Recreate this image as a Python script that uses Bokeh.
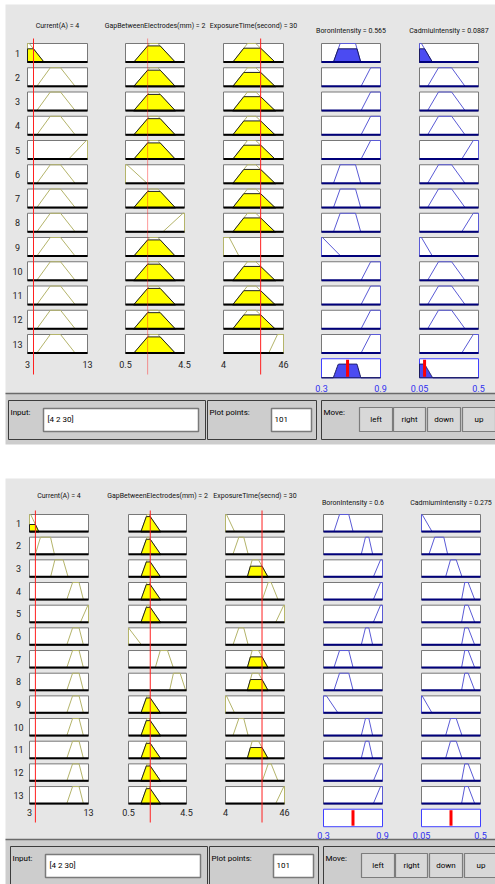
import numpy as np
from bokeh.plotting import figure
from bokeh.models import Range1d
from bokeh.embed import file_html
from bokeh.resources import INLINE
from bokeh.core.properties import value

# ----------------------------- data -----------------------------
rule_labels = ["1", "2", "3", "4", "5", "6", "7", "8", "9", "10", "11", "12", "13"]
input_values = [4, 2, 30]
plot_points = 101
input_ranges = [[3, 13], [0.5, 4.5], [4, 46]]
output_ranges = [[0.3, 0.9], [0.05, 0.5]]
input_tick_labels = [["3", "13"], ["0.5", "4.5"], ["4", "46"]]
output_tick_labels = [["0.3", "0.9"], ["0.05", "0.5"]]
button_labels = ["left", "right", "down", "up"]

# upper rule viewer
top_input_names = ["Current(A)", "GapBetweenElectrodes(mm)", "ExposureTime(second)"]
top_output_names = ["BoronIntensity", "CadmiuIntensity"]
top_output_values = [0.565, 0.0887]
top_current_mfs = [[3, 3, 3.3, 5.8], [4.5, 6.8, 8.5, 11.0], [9.8, 12.8, 13, 13]]
top_gap_mfs = [[0.5, 0.5, 0.6, 2.0], [1.04, 2.14, 2.7, 3.9], [3.0, 4.4, 4.5, 4.5]]
top_exposure_mfs = [[4, 4, 8, 15], [10.3, 20.8, 26.6, 40.4], [35.5, 41.8, 46, 46]]
top_boron_mfs = [[0.3, 0.3, 0.31, 0.5], [0.42, 0.49, 0.646, 0.70], [0.7, 0.8, 0.9, 0.9]]
top_cadmium_mfs = [[0.05, 0.05, 0.065, 0.15], [0.11, 0.195, 0.295, 0.40], [0.37, 0.46, 0.5, 0.5]]
top_current_rule = [0, 1, 1, 1, 2, 1, 1, 1, 1, 1, 1, 1, 1]
top_gap_rule = [1, 1, 1, 1, 1, 0, 1, 2, 1, 1, 1, 1, 1]
top_exposure_rule = [1, 1, 1, 1, 1, 1, 1, 1, 0, 1, 1, 1, 2]
top_boron_rule = [1, 2, 2, 2, 2, 1, 1, 1, 0, 2, 2, 2, 2]
top_cadmium_rule = [0, 1, 1, 1, 2, 1, 1, 2, 0, 1, 1, 1, 2]

# lower rule viewer
bot_input_names = ["Current(A)", "GapBetweenElectrodes(mm)", "ExposureTime(secnd)"]
bot_output_names = ["BoronIntensity", "CadmiumIntensity"]
bot_output_values = [0.6, 0.275]
bot_current_mfs = [[3, 3, 3.2, 4.6], [3.98, 4.86, 6.56, 7.24], [6.56, 7.3, 8.7, 9.56],
                   [9.3, 10.3, 11.4, 12.15], [11.6, 12.9, 13, 13]]
bot_gap_mfs = [[0.5, 0.5, 0.5, 1.42], [1.35, 1.78, 1.9, 2.73], [2.34, 2.69, 3.19, 3.6],
               [3.33, 3.6, 4.06, 4.45]]
bot_exposure_mfs = [[4, 4, 4.7, 10.6], [9.2, 13.5, 17.0, 20.2], [19.45, 23.0, 27.5, 34.4],
                    [30.1, 34.4, 36.5, 41.5], [39.6, 45.5, 46, 46]]
bot_boron_mfs = [[0.3, 0.3, 0.33, 0.45], [0.405, 0.463, 0.557, 0.602], [0.683, 0.727, 0.761, 0.801],
                 [0.805, 0.88, 0.9, 0.9]]
bot_cadmium_mfs = [[0.05, 0.05, 0.055, 0.132], [0.106, 0.151, 0.22, 0.25], [0.233, 0.271, 0.315, 0.36],
                   [0.355, 0.38, 0.406, 0.457]]
bot_current_rule = [0, 1, 2, 3, 4, 3, 3, 3, 3, 3, 3, 3, 3]
bot_gap_rule = [1, 1, 1, 1, 1, 0, 2, 3, 1, 1, 1, 1, 1]
bot_exposure_rule = [0, 1, 2, 3, 4, 1, 2, 2, 0, 1, 2, 3, 4]
bot_boron_rule = [1, 2, 3, 3, 3, 2, 1, 1, 0, 2, 2, 3, 3]
bot_cadmium_rule = [0, 1, 2, 3, 3, 3, 3, 3, 0, 2, 2, 3, 3]

# ----------------------------- style / layout -----------------------------
FONT = "Roboto"
OLIVE = "#b4b46a"
YELLOW = "#ffff00"
BLUE_LINE = "#5a5ad6"
BLUE_FILL = "#4b4bf2"
NAVY = "#00007a"
RED = "#ff2020"
PANEL_BG = "#e6e6e6"
BAR_BG = "#cdcdcd"

panels = [
    dict(in_names=top_input_names, out_names=top_output_names, out_vals=top_output_values,
         in_mfs=[top_current_mfs, top_gap_mfs, top_exposure_mfs],
         out_mfs=[top_boron_mfs, top_cadmium_mfs],
         in_rules=[top_current_rule, top_gap_rule, top_exposure_rule],
         out_rules=[top_boron_rule, top_cadmium_rule],
         col_left=[27, 125, 223, 321, 419], col_w=[60, 59, 60, 59, 59],
         row_top=43, pitch=24.25, row_h=19, title_y=[25, 25, 25, 30, 30],
         label_x=17, tick_y=364, out_tick_y=388, red_top=38, red_bot=374,
         bg_top=4, bar_y=393, bar_dx=0, red_alpha=[1.0, 0.45, 1.0]),
    dict(in_names=bot_input_names, out_names=bot_output_names, out_vals=bot_output_values,
         in_mfs=[bot_current_mfs, bot_gap_mfs, bot_exposure_mfs],
         out_mfs=[bot_boron_mfs, bot_cadmium_mfs],
         in_rules=[bot_current_rule, bot_gap_rule, bot_exposure_rule],
         out_rules=[bot_boron_rule, bot_cadmium_rule],
         col_left=[29, 128, 225, 323, 421], col_w=[59, 58, 59, 59, 59],
         row_top=514, pitch=22.67, row_h=17.5, title_y=[495, 495, 495, 502, 502],
         label_x=18, tick_y=812, out_tick_y=835, red_top=510, red_bot=822,
         bg_top=478, bar_y=839, bar_dx=2, red_alpha=[1.0, 1.0, 1.0]),
]


def trapmf(x, prm):
    a, b, c, d = prm
    x = np.atleast_1d(np.asarray(x, dtype=float))
    up = (x >= a).astype(float) if b == a else np.clip((x - a) / (b - a), 0.0, 1.0)
    dn = (x <= d).astype(float) if d == c else np.clip((d - x) / (d - c), 0.0, 1.0)
    return np.minimum(up, dn)


W, H = 495, 884
p = figure(width=W, height=H, x_range=Range1d(0, W), y_range=Range1d(H, 0),
           output_backend="svg", toolbar_location=None, min_border=0,
           x_axis_location=None, y_axis_location=None)
p.grid.visible = False
p.outline_line_color = None
p.background_fill_color = "white"
p.border_fill_color = "white"

boxes = dict(left=[], right=[], top=[], bottom=[])
agg_boxes = dict(left=[], right=[], top=[], bottom=[])
in_base = dict(x0=[], y0=[], x1=[], y1=[])
out_base = dict(x0=[], y0=[], x1=[], y1=[])
olive = dict(xs=[], ys=[])
blue = dict(xs=[], ys=[])
yfill = dict(xs=[], ys=[])
bfill = dict(xs=[], ys=[])
red_in = dict(x0=[], y0=[], x1=[], y1=[], a=[])
red_out = dict(x0=[], y0=[], x1=[], y1=[])
titles = dict(x=[], y=[], text=[])
rowlab = dict(x=[], y=[], text=[])
ticks_in = dict(x=[], y=[], text=[])
ticks_out = dict(x=[], y=[], text=[])

# panel backgrounds
for P in panels:
    p.quad(left=5, right=W, top=P["bg_top"], bottom=P["bar_y"], fill_color=PANEL_BG, line_color=None)
    p.quad(left=5, right=W, top=P["bar_y"], bottom=min(P["bar_y"] + 51, H), fill_color=BAR_BG, line_color=None)
    p.segment(x0=5, y0=P["bar_y"], x1=W, y1=P["bar_y"], line_color="#6a6a6a", line_width=1.5)

for P in panels:
    def X(col, v, rng, P=P):
        return P["col_left"][col] + (np.asarray(v, float) - rng[0]) / (rng[1] - rng[0]) * P["col_w"][col]

    def Y(row, mu, P=P):
        return P["row_top"] + row * P["pitch"] + P["row_h"] * (1 - np.asarray(mu, float))

    def cell_box(col, row, store, P=P):
        store["left"].append(P["col_left"][col])
        store["right"].append(P["col_left"][col] + P["col_w"][col])
        store["top"].append(P["row_top"] + row * P["pitch"])
        store["bottom"].append(P["row_top"] + row * P["pitch"] + P["row_h"])

    fires = []
    for r in range(len(rule_labels)):
        rowlab["x"].append(P["label_x"])
        rowlab["y"].append(P["row_top"] + r * P["pitch"] + P["row_h"] / 2)
        rowlab["text"].append(rule_labels[r])
        mus = []
        for i in range(3):
            rng = input_ranges[i]
            prm = P["in_mfs"][i][P["in_rules"][i][r]]
            mu = float(trapmf(input_values[i], prm)[0])
            mus.append(mu)
            cell_box(i, r, boxes)
            a, b, c, d = prm
            olive["xs"].append(list(X(i, [a, b, c, d], rng)))
            olive["ys"].append(list(Y(r, [0, 1, 1, 0])))
            if mu > 0:
                fx = [a, a + mu * (b - a), d - mu * (d - c), d]
                yfill["xs"].append(list(X(i, fx, rng)))
                yfill["ys"].append(list(Y(r, [0, mu, mu, 0])))
            in_base["x0"].append(P["col_left"][i]); in_base["x1"].append(P["col_left"][i] + P["col_w"][i])
            yb = float(Y(r, 0)) - 0.5
            in_base["y0"].append(yb); in_base["y1"].append(yb)
        fire = min(mus)
        fires.append(fire)
        for j in range(2):
            col = 3 + j
            rng = output_ranges[j]
            prm = P["out_mfs"][j][P["out_rules"][j][r]]
            cell_box(col, r, boxes)
            a, b, c, d = prm
            blue["xs"].append(list(X(col, [a, b, c, d], rng)))
            blue["ys"].append(list(Y(r, [0, 1, 1, 0])))
            if fire > 0:
                fx = [a, a + fire * (b - a), d - fire * (d - c), d]
                bfill["xs"].append(list(X(col, fx, rng)))
                bfill["ys"].append(list(Y(r, [0, fire, fire, 0])))
            out_base["x0"].append(P["col_left"][col]); out_base["x1"].append(P["col_left"][col] + P["col_w"][col])
            yb = float(Y(r, 0)) - 0.5
            out_base["y0"].append(yb); out_base["y1"].append(yb)

    # aggregated outputs (row 14)
    ra = len(rule_labels)
    for j in range(2):
        col = 3 + j
        rng = output_ranges[j]
        cell_box(col, ra, agg_boxes)
        grid = np.linspace(rng[0], rng[1], plot_points)
        agg = np.zeros_like(grid)
        for r in range(len(rule_labels)):
            prm = P["out_mfs"][j][P["out_rules"][j][r]]
            agg = np.maximum(agg, np.minimum(fires[r], trapmf(grid, prm)))
        if agg.max() > 0:
            gx = np.concatenate([[rng[0]], grid, [rng[1]]])
            gy = np.concatenate([[0], agg, [0]])
            bfill["xs"].append(list(X(col, gx, rng)))
            bfill["ys"].append(list(Y(ra, gy)))
        xv = float(X(col, P["out_vals"][j], rng))
        red_out["x0"].append(xv); red_out["x1"].append(xv)
        red_out["y0"].append(float(Y(ra, 1)) + 1); red_out["y1"].append(float(Y(ra, 0)) - 1)
        titles["x"].append(P["col_left"][col] + P["col_w"][col] / 2)
        titles["y"].append(P["title_y"][col])
        titles["text"].append(f"{P['out_names'][j]} = {P['out_vals'][j]:g}")
        for k, t in enumerate(output_tick_labels[j]):
            ticks_out["x"].append(P["col_left"][col] + k * P["col_w"][col])
            ticks_out["y"].append(P["out_tick_y"])
            ticks_out["text"].append(t)

    for i in range(3):
        rng = input_ranges[i]
        xv = float(X(i, input_values[i], rng))
        red_in["x0"].append(xv); red_in["x1"].append(xv)
        red_in["y0"].append(P["red_top"]); red_in["y1"].append(P["red_bot"])
        red_in["a"].append(P["red_alpha"][i])
        titles["x"].append(P["col_left"][i] + P["col_w"][i] / 2)
        titles["y"].append(P["title_y"][i])
        titles["text"].append(f"{P['in_names'][i]} = {input_values[i]:g}")
        for k, t in enumerate(input_tick_labels[i]):
            ticks_in["x"].append(P["col_left"][i] + k * P["col_w"][i])
            ticks_in["y"].append(P["tick_y"])
            ticks_in["text"].append(t)

# draw cells
p.quad(**boxes, fill_color="white", line_color="#787878", line_width=1)
p.quad(**agg_boxes, fill_color="white", line_color="#4040ff", line_width=1)
p.multi_line(xs=olive["xs"], ys=olive["ys"], line_color=OLIVE, line_width=1)
p.multi_line(xs=blue["xs"], ys=blue["ys"], line_color=BLUE_LINE, line_width=1)
p.patches(xs=yfill["xs"], ys=yfill["ys"], fill_color=YELLOW, line_color="#202020", line_width=1)
p.patches(xs=bfill["xs"], ys=bfill["ys"], fill_color=BLUE_FILL, line_color="#1a1a60", line_width=1)
p.segment(**in_base, line_color="black", line_width=2)
p.segment(**out_base, line_color=NAVY, line_width=2)
p.segment(x0=red_in["x0"], y0=red_in["y0"], x1=red_in["x1"], y1=red_in["y1"],
          line_color=RED, line_alpha=red_in["a"], line_width=1)
p.segment(**red_out, line_color="#ff0000", line_width=3)

txt = dict(text_font=value(FONT), text_baseline="middle")
p.text(x=titles["x"], y=titles["y"], text=titles["text"], text_align="center",
       text_font_size="7px", text_color="#111111", **txt)
p.text(x=rowlab["x"], y=rowlab["y"], text=rowlab["text"], text_align="center",
       text_font_size="9px", text_color="#222222", **txt)
p.text(x=ticks_in["x"], y=ticks_in["y"], text=ticks_in["text"], text_align="center",
       text_font_size="9px", text_color="#222222", **txt)
p.text(x=ticks_out["x"], y=ticks_out["y"], text=ticks_out["text"], text_align="center",
       text_font_size="9px", text_color="#3030f0", **txt)

# control bars
for P in panels:
    y0, dx = P["bar_y"], P["bar_dx"]
    groups = [(8, 205), (207, 316), (321, 500)]
    p.quad(left=[g[0] + dx for g in groups], right=[g[1] + dx for g in groups],
           top=y0 + 7, bottom=y0 + 46, fill_color=BAR_BG, line_color="#3c3c3c", line_width=1)
    fields = [(43, 198), (271, 311)]
    p.quad(left=[f[0] + dx for f in fields], right=[f[1] + dx for f in fields],
           top=y0 + 15, bottom=y0 + 38, fill_color="white", line_color="#7a7a7a", line_width=1.5)
    buttons = [(359, 392), (393, 425), (427, 460), (462, 495)]
    p.quad(left=[b[0] + dx for b in buttons], right=[b[1] + dx for b in buttons],
           top=y0 + 14, bottom=y0 + 38, fill_color="#d8d8d8", line_color="#7c7c7c", line_width=1.2)
    p.text(x=[10 + dx, 209 + dx, 323 + dx], y=[y0 + 19] * 3, text=["Input:", "Plot points:", "Move:"],
           text_align="left", text_font_size="8px", text_color="black", **txt)
    p.text(x=[47 + dx, 274 + dx], y=[y0 + 26] * 2,
           text=["[" + " ".join(f"{v:g}" for v in input_values) + "]", str(plot_points)],
           text_align="left", text_font_size="8px", text_color="black", **txt)
    p.text(x=[(b[0] + b[1]) / 2 + dx for b in buttons], y=[y0 + 26] * 4, text=button_labels,
           text_align="center", text_font_size="8px", text_color="black", **txt)

open("out.html", "w").write(file_html(p, INLINE))
